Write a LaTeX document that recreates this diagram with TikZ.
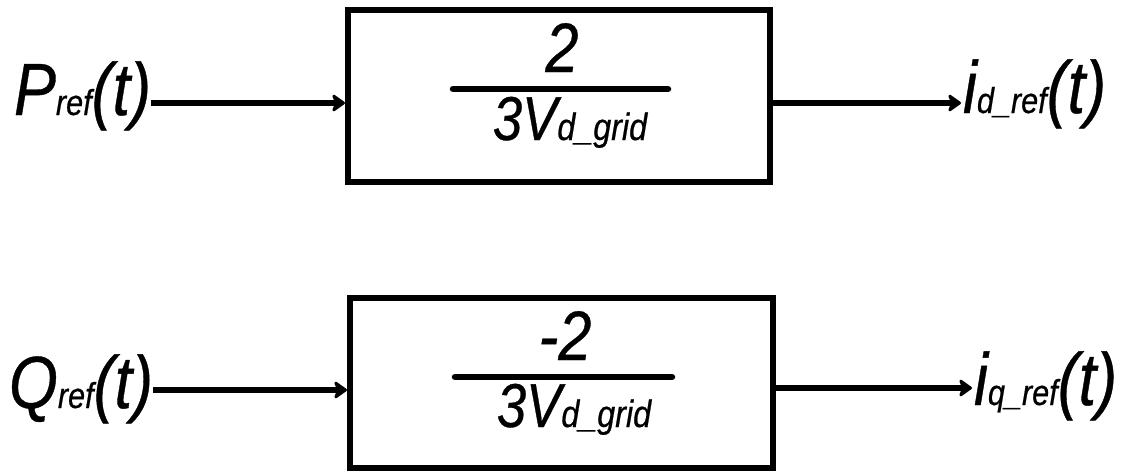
\documentclass[tikz,border=0pt]{standalone}
\usepackage{fontspec}
\setmainfont{Liberation Sans}[FakeStretch=0.85,ItalicFeatures={FakeBold=0.5}]
\usetikzlibrary{arrows.meta}
\newcommand\fsBig{\fontsize{74}{74}\selectfont\itshape}
\newcommand\fsNum{\fontsize{70}{70}\selectfont\itshape}
\newcommand\fsDen{\fontsize{62}{62}\selectfont\itshape}
\newcommand\fsSub{\fontsize{36}{36}\selectfont\itshape}
\newcommand\fsDsub{\fontsize{38}{38}\selectfont\itshape}
\begin{document}
\begin{tikzpicture}[x=1pt,y=-1pt,
  lbl/.style={inner sep=0pt,outer sep=0pt,anchor=base west},
  ctr/.style={inner sep=0pt,outer sep=0pt,anchor=base},
  blk/.style={draw,line width=6.5pt,inner sep=0pt,outer sep=0pt,minimum width=422pt,minimum height=172pt},
  arr/.style={line width=6pt,-{Stealth[length=15pt,width=21pt,inset=4pt,round]}},
  fracline/.style={line width=6.5pt,line cap=round}]
\useasboundingbox (0,0) rectangle (1136,474);
% row 1
\node[blk] (box1) at (559,96) {};
\node[lbl] (P) at (14,115) {\fsBig P\fsSub ref\fsBig (t)};
\node[lbl] (id) at (963,113) {\fsBig i\fsSub d\_ref\fsBig (t)};
\node[ctr] (n1) at (562,72) {\fsNum 2};
\node[ctr] (d1) at (570,140) {\fsDen 3V\fsDsub d\_grid};
\draw[fracline] (453,89) -- (668,89);
\draw[arr] (P.east |- 0,103) -- ([xshift=-3pt]box1.west |- 0,103);
\draw[arr] ([xshift=3pt]box1.east |- 0,103) -- ([xshift=-2pt]id.west |- 0,103);
% row 2
\node[blk,minimum width=423pt,minimum height=170pt] (box2) at (561.5,383) {};
\node[lbl] (Q) at (9,408) {\fsBig Q\fsSub ref\fsBig (t)};
\node[lbl] (iq) at (974,405) {\fsBig i\fsSub q\_ref\fsBig (t)};
\node[ctr] (n2) at (565,360) {\fsNum -2};
\node[ctr] (d2) at (574,427) {\fsDen 3V\fsDsub d\_grid};
\draw[fracline] (455,377) -- (672,377);
\draw[arr] (Q.east |- 0,390) -- ([xshift=-3pt]box2.west |- 0,390);
\draw[arr] ([xshift=3pt]box2.east |- 0,388) -- ([xshift=-2pt]iq.west |- 0,388);
\end{tikzpicture}
\end{document}
